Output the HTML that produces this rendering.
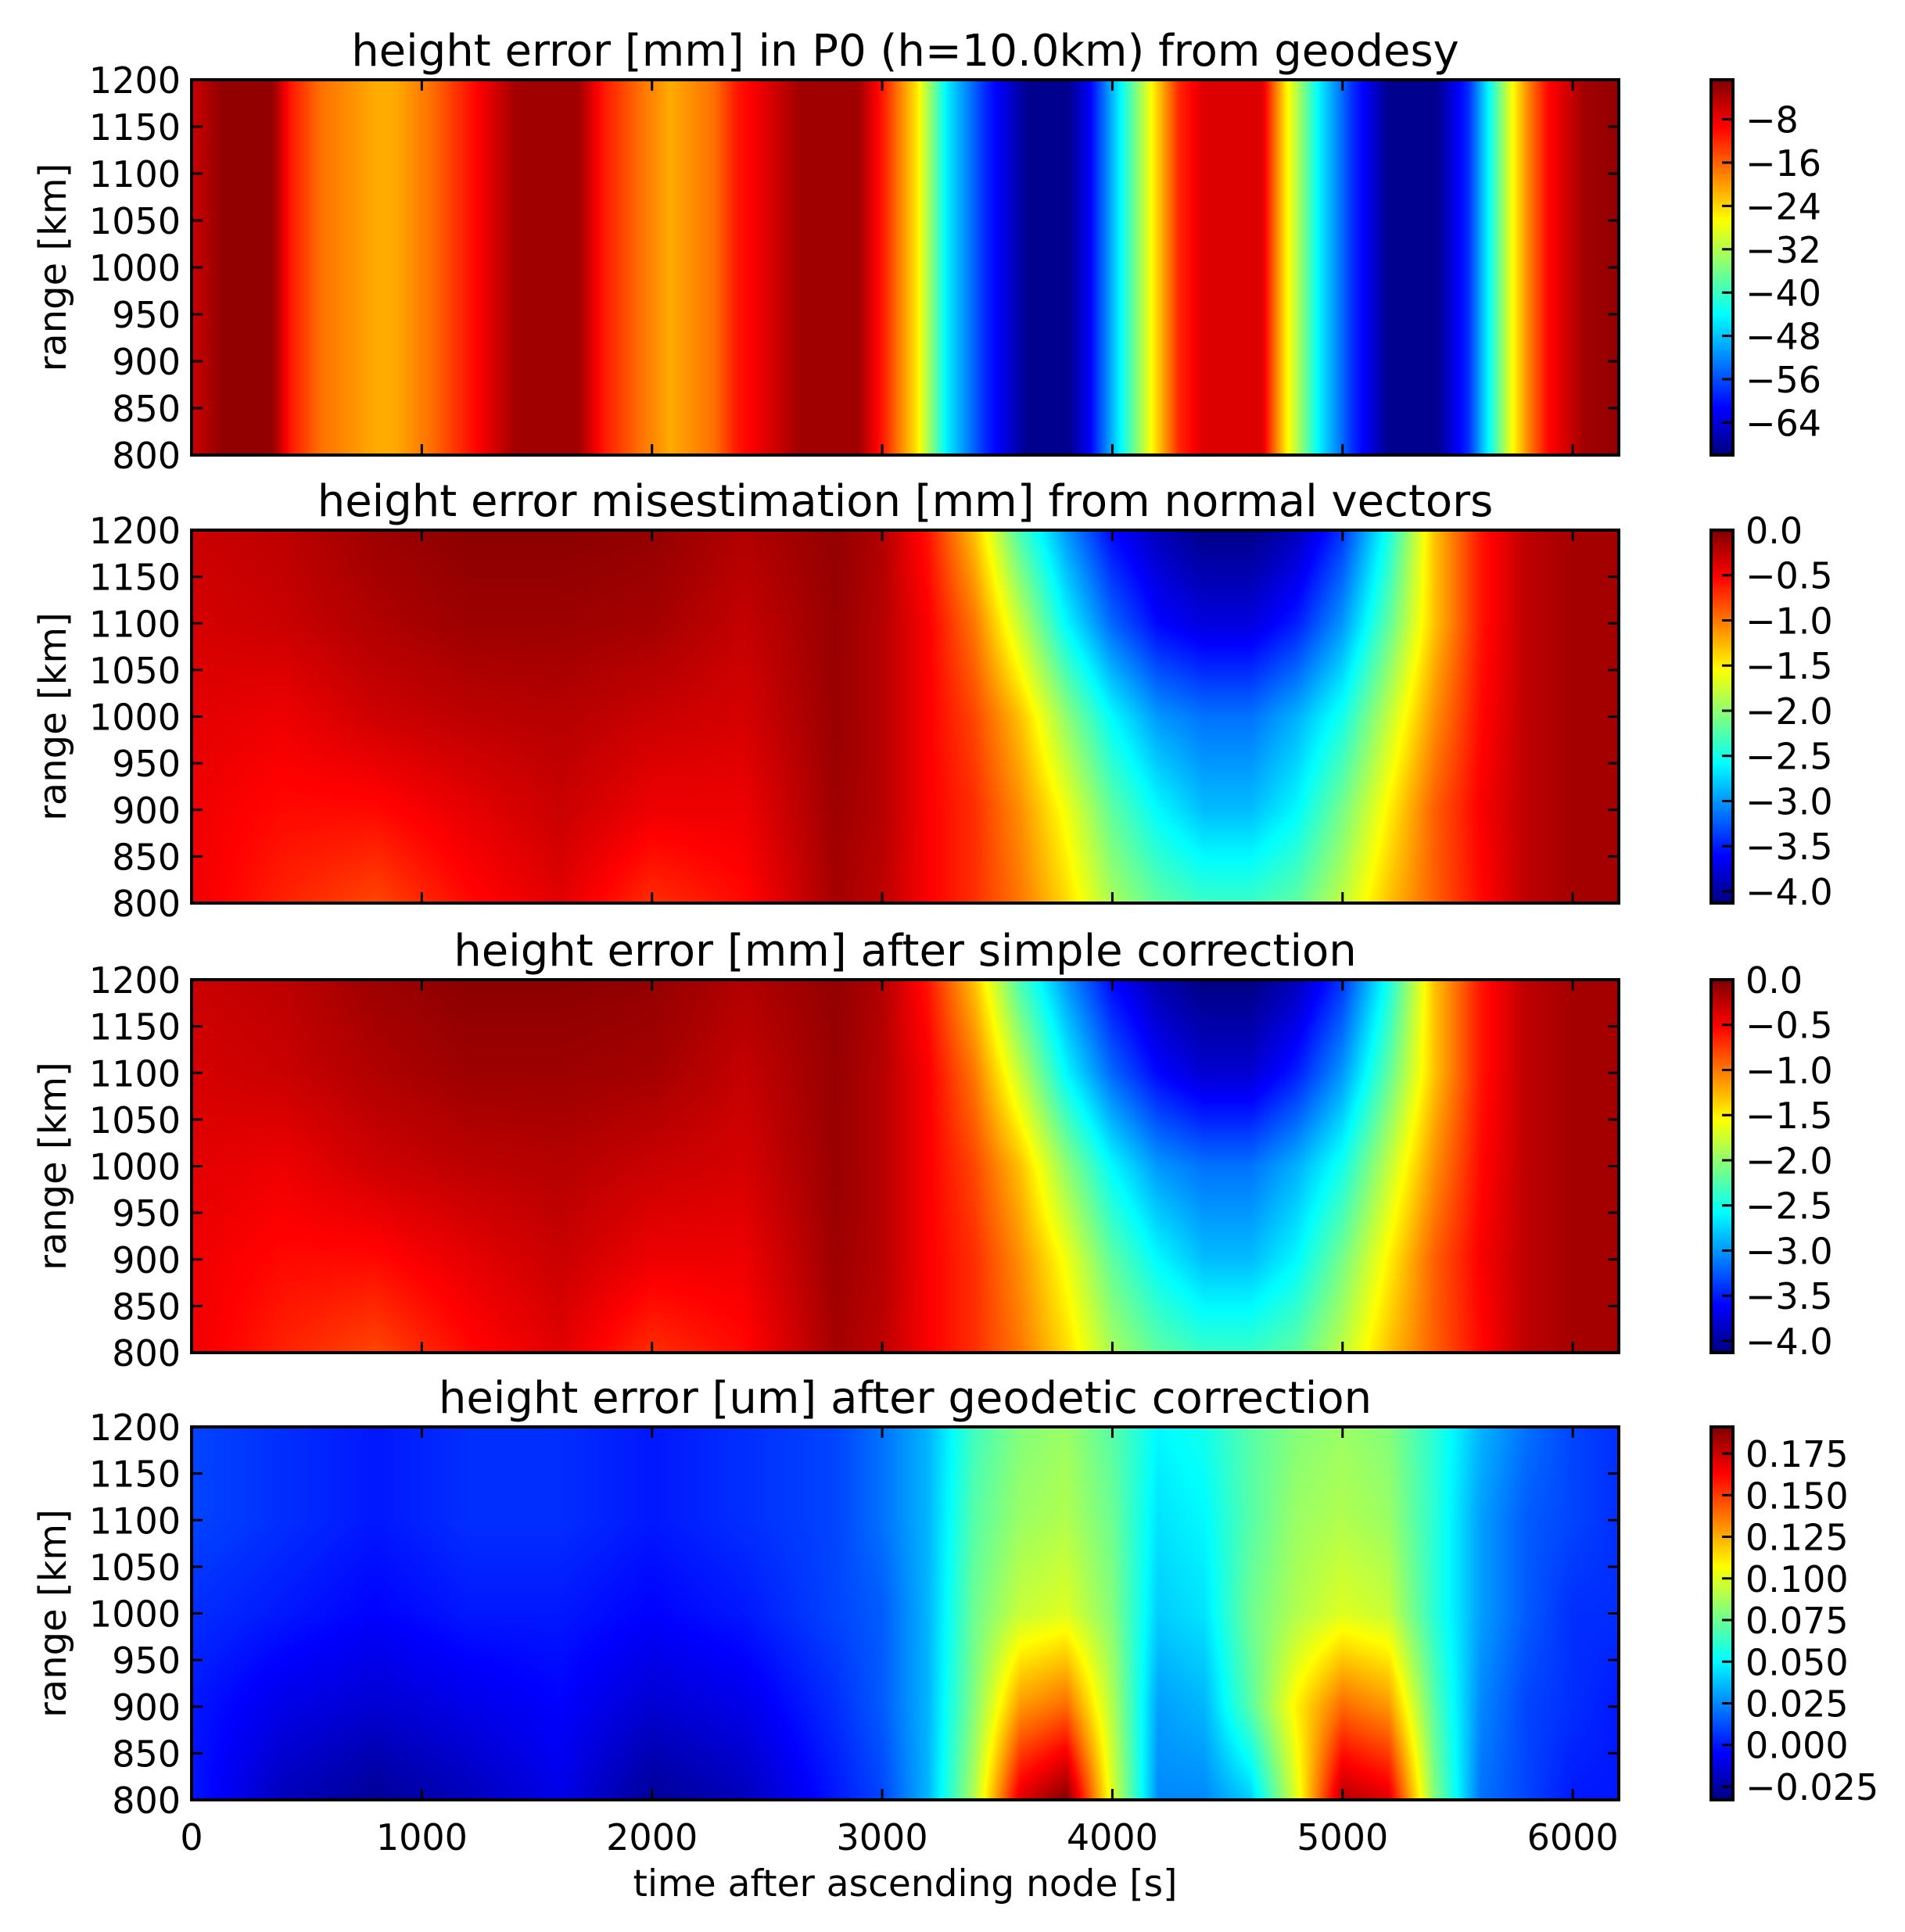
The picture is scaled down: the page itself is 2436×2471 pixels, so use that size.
<!DOCTYPE html>
<html><head><meta charset="utf-8">
<style>
html,body{margin:0;padding:0;background:#fff;}
#root{position:relative;width:2436px;height:2471px;overflow:hidden;font-family:"DejaVu Sans","Liberation Sans",sans-serif;}
canvas{position:absolute;}
svg{position:absolute;left:0;top:0;}
</style></head>
<body>
<div id="root">
<svg id="svg" width="2436" height="2471"></svg>
</div>
<script>
// ---------- data ----------
const timeTicks = [0,1000,2000,3000,4000,5000,6000];
const rangeTicks = [800,850,900,950,1000,1050,1100,1150,1200];
const titles = ["height error [mm] in P0 (h=10.0km) from geodesy","height error misestimation [mm] from normal vectors","height error [mm] after simple correction","height error [um] after geodetic correction"];

// panel 1: profile vs time (constant in range)
const p1Times = [0,130,350,430,560,800,880,1040,1200,1410,1680,1790,1950,2080,2270,2370,2640,2900,3013,3150,3280,3440,3630,3810,3900,4030,4160,4290,4400,4650,4752,4900,5040,5200,5410,5550,5630,5730,5810,5890,6050,6200];
const p1Values = [-6,-2,-2,-11,-17,-21,-21,-17,-11,-3,-3,-11,-17,-21,-17,-11,-3,-3,-12,-25,-45,-58,-69,-69,-62,-45,-28,-12,-7,-7,-25,-45,-58,-69,-69,-58,-45,-28,-18,-10,-3,-2];
const p1Ticks = [-8,-16,-24,-32,-40,-48,-56,-64];
const p1Range = [-70,-0.7];

// panels 2-4: grids (rows = range, cols = time)
const gridTimes = [0,400,800,1200,1600,2000,2400,2800,3000,3200,3400,3600,3800,4000,4200,4400,4600,4800,5000,5200,5400,5600,5800,6000,6200];
const gridRanges = [1200,1100,1000,900,800];
const p2Values = [
[-0.3,-0.25,-0.12,-0.05,-0.05,-0.08,-0.2,-0.08,-0.2,-0.6,-1.3,-2.3,-3.0,-3.6,-3.9,-4.1,-4.1,-3.9,-3.4,-2.5,-1.3,-0.6,-0.25,-0.15,-0.15],
[-0.35,-0.3,-0.2,-0.12,-0.12,-0.15,-0.28,-0.1,-0.22,-0.5,-1.0,-1.8,-2.6,-3.2,-3.6,-3.75,-3.75,-3.5,-3.0,-2.2,-1.3,-0.6,-0.25,-0.15,-0.15],
[-0.4,-0.45,-0.32,-0.25,-0.22,-0.3,-0.35,-0.1,-0.22,-0.5,-0.8,-1.3,-2.0,-2.6,-3.0,-3.15,-3.15,-2.9,-2.5,-1.8,-1.1,-0.55,-0.25,-0.15,-0.15],
[-0.45,-0.55,-0.55,-0.42,-0.3,-0.45,-0.45,-0.12,-0.22,-0.5,-0.7,-1.1,-1.6,-2.2,-2.6,-2.85,-2.85,-2.6,-2.1,-1.5,-0.9,-0.5,-0.25,-0.15,-0.15],
[-0.45,-0.65,-0.8,-0.55,-0.4,-0.7,-0.55,-0.15,-0.25,-0.5,-0.7,-1.0,-1.4,-1.9,-2.2,-2.35,-2.35,-2.2,-1.8,-1.3,-0.9,-0.55,-0.25,-0.15,-0.15]];
const p3Values = [
[-0.3,-0.25,-0.12,-0.05,-0.05,-0.08,-0.2,-0.08,-0.2,-0.6,-1.3,-2.3,-3.0,-3.6,-3.95,-4.12,-4.12,-3.9,-3.4,-2.5,-1.3,-0.6,-0.25,-0.15,-0.15],
[-0.35,-0.3,-0.2,-0.12,-0.12,-0.15,-0.28,-0.1,-0.22,-0.5,-1.0,-1.8,-2.6,-3.2,-3.6,-3.8,-3.8,-3.5,-3.0,-2.2,-1.3,-0.6,-0.25,-0.15,-0.15],
[-0.4,-0.45,-0.32,-0.25,-0.22,-0.3,-0.35,-0.1,-0.22,-0.5,-0.8,-1.3,-2.0,-2.6,-3.0,-3.15,-3.15,-2.9,-2.5,-1.8,-1.1,-0.55,-0.25,-0.15,-0.15],
[-0.45,-0.55,-0.55,-0.42,-0.3,-0.45,-0.45,-0.12,-0.22,-0.5,-0.7,-1.1,-1.6,-2.2,-2.6,-2.85,-2.85,-2.6,-2.1,-1.5,-0.9,-0.5,-0.25,-0.15,-0.15],
[-0.45,-0.65,-0.8,-0.55,-0.4,-0.7,-0.55,-0.15,-0.25,-0.5,-0.7,-1.0,-1.4,-1.9,-2.2,-2.35,-2.35,-2.2,-1.8,-1.3,-0.9,-0.55,-0.25,-0.15,-0.15]];
const p23Ticks = [0.0,-0.5,-1.0,-1.5,-2.0,-2.5,-3.0,-3.5,-4.0];
const p23Range = [-4.13,0];
const p4Values = [
[0.01,0.005,0.0,0.005,0.005,0.0,0.005,0.01,0.02,0.035,0.065,0.08,0.085,0.07,0.05,0.055,0.07,0.08,0.085,0.08,0.06,0.035,0.02,0.01,0.005],
[0.01,0.005,0.0,0.005,0.005,0.0,0.005,0.01,0.02,0.035,0.07,0.085,0.09,0.075,0.045,0.05,0.07,0.085,0.09,0.085,0.06,0.03,0.015,0.01,0.005],
[0.005,0.0,-0.005,0.0,0.0,-0.005,0.0,0.01,0.015,0.035,0.075,0.095,0.10,0.08,0.04,0.045,0.075,0.09,0.10,0.095,0.06,0.03,0.015,0.005,0.005],
[0.0,-0.01,-0.015,-0.01,-0.005,-0.015,-0.01,0.005,0.015,0.035,0.08,0.13,0.14,0.09,0.03,0.035,0.07,0.11,0.14,0.13,0.07,0.025,0.01,0.005,0.0],
[0.0,-0.02,-0.028,-0.02,-0.01,-0.028,-0.02,0.0,0.01,0.035,0.09,0.17,0.19,0.10,0.025,0.025,0.04,0.10,0.18,0.17,0.08,0.02,0.01,0.0,0.0]];
const p4Ticks = [0.175,0.150,0.125,0.100,0.075,0.050,0.025,0.000,-0.025];
const p4Range = [-0.033,0.191];

// ---------- layout ----------
const AX_L=245, AX_R=2070, T_MIN=0, T_MAX=6200, R_MIN=800, R_MAX=1200;
const panelTops=[102,678,1253,1825], panelBots=[582,1155,1730,2302];
const CB_L=2188, CB_R=2216;
const svg=document.getElementById('svg');
const root=document.getElementById('root');
const NS='http://www.w3.org/2000/svg';
function xScale(t){return AX_L+(t-T_MIN)/(T_MAX-T_MIN)*(AX_R-AX_L);}
function yScale(r,i){return panelBots[i]-(r-R_MIN)/(R_MAX-R_MIN)*(panelBots[i]-panelTops[i]);}
function jet(x){x=Math.max(0,Math.min(1,x));const c=v=>Math.round(255*Math.max(0,Math.min(1,v)));
 return [c(1.5-Math.abs(4*x-3)),c(1.5-Math.abs(4*x-2)),c(1.5-Math.abs(4*x-1))];}
function interp1(xs,ys,x){if(x<=xs[0])return ys[0];for(let k=1;k<xs.length;k++){if(x<=xs[k]){const f=(x-xs[k-1])/(xs[k]-xs[k-1]);return ys[k-1]+f*(ys[k]-ys[k-1]);}}return ys[ys.length-1];}
function gridVal(vals,t,r){
 const rowsAt=vals.map(row=>interp1(gridTimes,row,t));
 const rs=gridRanges.slice().reverse(), vs=rowsAt.slice().reverse();
 return interp1(rs,vs,r);}
function el(tag,attrs,parent){const e=document.createElementNS(NS,tag);for(const k in attrs)e.setAttribute(k,attrs[k]);(parent||svg).appendChild(e);return e;}
function fmtMinus(s){return s.replace('-','\u2212');}

function drawHeat(i,fn,range){
 const w=AX_R-AX_L,h=panelBots[i]-panelTops[i];
 const cv=document.createElement('canvas');cv.width=w;cv.height=h;
 cv.style.left=AX_L+'px';cv.style.top=panelTops[i]+'px';
 
 
 root.insertBefore(cv,svg);
 const ctx=cv.getContext('2d');const img=ctx.createImageData(w,h);
 for(let py=0;py<h;py++){const r=R_MAX-(py+0.5)/h*(R_MAX-R_MIN);
  for(let px=0;px<w;px++){const t=T_MIN+(px+0.5)/w*(T_MAX-T_MIN);
   const v=fn(t,r);const c=jet((v-range[0])/(range[1]-range[0]));const o=(py*w+px)*4;
   img.data[o]=c[0];img.data[o+1]=c[1];img.data[o+2]=c[2];img.data[o+3]=255;}}
 ctx.putImageData(img,0,0);
}
function drawColorbar(i,range,ticks,fmt){
 const top=panelTops[i],bot=panelBots[i],h=bot-top,w=CB_R-CB_L;
 const cv=document.createElement('canvas');cv.width=w;cv.height=h;
 cv.style.left=CB_L+'px';cv.style.top=top+'px';
 
 
 root.insertBefore(cv,svg);
 const ctx=cv.getContext('2d');
 for(let py=0;py<h;py++){const c=jet(1-(py+0.5)/h);ctx.fillStyle='rgb('+c+')';ctx.fillRect(0,py,w,1);}
 const g=el('g',{});
 
 
 el('rect',{x:CB_L,y:top,width:w,height:h,fill:'none',stroke:'#000','stroke-width':4},g);
 ticks.forEach(v=>{const y=bot-(v-range[0])/(range[1]-range[0])*h;
  el('line',{x1:CB_R-14,x2:CB_R,y1:y,y2:y,stroke:'#000','stroke-width':3},g);
  const tx=el('text',{x:2232,y:y+17,'font-size':46,fill:'#000'},g);
  
  
  tx.textContent=fmtMinus(fmt(v));});
}
function drawAxes(i,showX){
 const top=panelTops[i],bot=panelBots[i];
 const g=el('g',{});
 
 
 timeTicks.forEach(t=>{const x=xScale(t);
  el('line',{x1:x,x2:x,y1:bot,y2:bot-14,stroke:'#000','stroke-width':3},g);
  el('line',{x1:x,x2:x,y1:top,y2:top+14,stroke:'#000','stroke-width':3},g);
  if(showX){const tx=el('text',{x:x,y:bot+64,'font-size':46,'text-anchor':'middle'},g);
   
   
   tx.textContent=t;}});
 rangeTicks.forEach(r=>{const y=yScale(r,i);
  el('line',{x1:AX_L,x2:AX_L+14,y1:y,y2:y,stroke:'#000','stroke-width':3},g);
  el('line',{x1:AX_R,x2:AX_R-14,y1:y,y2:y,stroke:'#000','stroke-width':3},g);
  const tx=el('text',{x:231,y:y+17,'font-size':46,'text-anchor':'end'},g);
  
  
  tx.textContent=r;});
 el('rect',{x:AX_L,y:top,width:AX_R-AX_L,height:bot-top,fill:'none',stroke:'#000','stroke-width':4},g);
 const tt=el('text',{x:(AX_L+AX_R)/2,y:top-18,'font-size':56,'text-anchor':'middle'},g);
 
 
 tt.textContent=titles[i];
 const yl=el('text',{x:0,y:0,'font-size':48,'text-anchor':'middle',transform:'translate(84,'+((top+bot)/2)+') rotate(-90)'},g);
 
 
 yl.textContent='range [km]';
}

drawHeat(0,(t,r)=>interp1(p1Times,p1Values,t),p1Range);
drawHeat(1,(t,r)=>gridVal(p2Values,t,r),p23Range);
drawHeat(2,(t,r)=>gridVal(p3Values,t,r),p23Range);
drawHeat(3,(t,r)=>gridVal(p4Values,t,r),p4Range);
for(let i=0;i<4;i++)drawAxes(i,i===3);
drawColorbar(0,p1Range,p1Ticks,v=>String(v));
drawColorbar(1,p23Range,p23Ticks,v=>v.toFixed(1));
drawColorbar(2,p23Range,p23Ticks,v=>v.toFixed(1));
drawColorbar(3,p4Range,p4Ticks,v=>v.toFixed(3));
const xl=el('text',{x:(AX_L+AX_R)/2,y:2425,'font-size':47,'text-anchor':'middle'});


xl.textContent='time after ascending node [s]';
</script>
</body></html>
